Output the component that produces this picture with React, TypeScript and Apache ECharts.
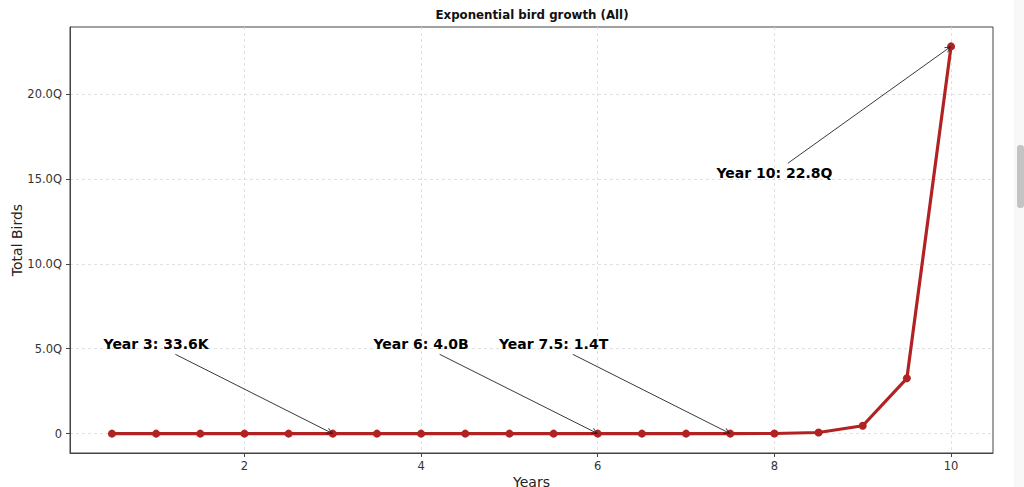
import React, { useEffect, useRef } from "react";
import * as echarts from "echarts";

// ---- data ----
const years = [0.5, 1, 1.5, 2, 2.5, 3, 3.5, 4, 4.5, 5, 5.5, 6, 6.5, 7, 7.5, 8, 8.5, 9, 9.5, 10];
const birds = [
  2, 14, 98, 686, 4802, 33614, 235298, 1647086, 11529602, 80707214, 564950498,
  3954653486, 27682574402, 193778020814, 1356446145698, 9495123019886,
  66465861139202, 465261027974414, 3256827195820898, 22797790370746286,
];
const xTicks = [2, 4, 6, 8, 10];
const yTicks = [0, 5e15, 10e15, 15e15, 20e15];

// annotations
const annoYears = [3, 6, 7.5, 10];
const annoLabels = ["Year 3: 33.6K", "Year 6: 4.0B", "Year 7.5: 1.4T", "Year 10: 22.8Q"];
// annotation text anchors (data coords)
const annoTextX = [1.0, 4.0, 5.5, 8.0];
const annoTextY = [5.27e15, 5.27e15, 5.27e15, 15.33e15];
// arrow tail (data coords)
const arrowStartX = [1.218, 4.21, 5.717, 8.153];
const arrowStartY = [4.67e15, 4.67e15, 4.67e15, 15.92e15];

const FONT = "DejaVu Sans";
const ARROW =
  "path://M5,0 L5.01,0 L5,0.01 Z M5,10 L10,19 L9,20 L5,12.4 L1,20 L0,19 Z";

function fmtY(v: number) {
  if (v === 0) return "0";
  return (v / 1e15).toFixed(1) + "Q";
}

export default function App() {
  const ref = useRef<HTMLDivElement>(null);
  useEffect(() => {
    if (!ref.current) return;
    const chart = echarts.init(ref.current, undefined, { renderer: "svg" });
    const arrowData = annoYears.map((yr, i) => {
      const idx = years.indexOf(yr);
      return [
        { coord: [arrowStartX[i], arrowStartY[i]] },
        { coord: [years[idx], birds[idx]] },
      ];
    });
    chart.setOption({
      animation: false,
      backgroundColor: "#ffffff",
      grid: {
        left: 70,
        right: 31,
        top: 27,
        bottom: 34,
        show: true,
        borderColor: "#444",
        borderWidth: 1,
        backgroundColor: "transparent",
        containLabel: false,
        outerBoundsMode: "none",
      },
      graphic: [
        {
          type: "text",
          x: 532,
          y: 15,
          style: {
            text: "Exponential bird growth (All)",
            fontFamily: FONT,
            fontSize: 11.8,
            fontWeight: "bold",
            fill: "#111",
            textAlign: "center",
            textVerticalAlign: "middle",
          },
        },
        {
          type: "rect",
          shape: { x: 1014, y: 0, width: 10, height: 487 },
          style: { fill: "#f8f8f8" },
          silent: true,
        },
        {
          type: "rect",
          shape: { x: 1017, y: 145, width: 7, height: 63, r: 3 },
          style: { fill: "#c4c4c4" },
          silent: true,
        },
      ],
      xAxis: {
        type: "value",
        min: 0.025,
        max: 10.475,
        name: "Years",
        nameLocation: "middle",
        nameGap: 22,
        nameMoveOverlap: false,
        nameTextStyle: { fontFamily: FONT, fontSize: 14, color: "#222", verticalAlign: "top" },
        axisLine: { show: true, onZero: false, lineStyle: { color: "#444", width: 1 } },
        axisTick: {
          show: true,
          inside: false,
          length: 4,
          customValues: xTicks,
          lineStyle: { color: "#444" },
        },
        axisLabel: {
          customValues: xTicks,
          margin: 7,
          fontFamily: FONT,
          fontSize: 11.5,
          color: "#333",
          formatter: (v: number) => String(v),
        },
        splitLine: {
          show: true,
          lineStyle: { color: "#d8d8d8", type: [3, 3], width: 0.8 },
        },
      },
      yAxis: {
        type: "value",
        min: -1.14e15,
        max: 23.94e15,
        name: "Total Birds",
        nameLocation: "middle",
        nameGap: 46,
        nameMoveOverlap: false,
        nameTextStyle: { fontFamily: FONT, fontSize: 14, color: "#222" },
        axisLine: { show: true, onZero: false, lineStyle: { color: "#444", width: 1 } },
        axisTick: {
          show: true,
          inside: false,
          length: 4,
          customValues: yTicks,
          lineStyle: { color: "#444" },
        },
        axisLabel: {
          customValues: yTicks,
          margin: 8,
          fontFamily: FONT,
          fontSize: 11.5,
          color: "#333",
          formatter: (v: number) => fmtY(v),
        },
        splitLine: {
          show: true,
          lineStyle: { color: "#d8d8d8", type: [3, 3], width: 0.8 },
        },
      },
      series: [
        {
          type: "line",
          data: years.map((y, i) => [y, birds[i]]),
          symbol: "circle",
          symbolSize: 8,
          showAllSymbol: true,
          lineStyle: { color: "#b22222", width: 3.2 },
          itemStyle: { color: "#b22222" },
          silent: true,
          z: 3,
          markLine: {
            silent: true,
            animation: false,
            symbol: ["none", ARROW],
            symbolSize: [6, 13],
            label: { show: false },
            lineStyle: { color: "#222", width: 0.9, type: "solid" },
            emphasis: { disabled: true },
            data: arrowData,
            z: 5,
          },
        },
        {
          type: "scatter",
          data: annoTextX.map((x, i) => [x, annoTextY[i]]),
          symbolSize: 1,
          itemStyle: { color: "transparent" },
          silent: true,
          z: 6,
          label: {
            show: true,
            position: "inside",
            formatter: (p: any) => annoLabels[p.dataIndex],
            fontFamily: FONT,
            fontSize: 14,
            fontWeight: "bold",
            color: "#000",
            opacity: 1,
          },
        },
      ],
    });
    return () => chart.dispose();
  }, []);
  return (
    <div
      ref={ref}
      style={{ position: "absolute", left: 0, top: 0, width: 1024, height: 487 }}
    />
  );
}
